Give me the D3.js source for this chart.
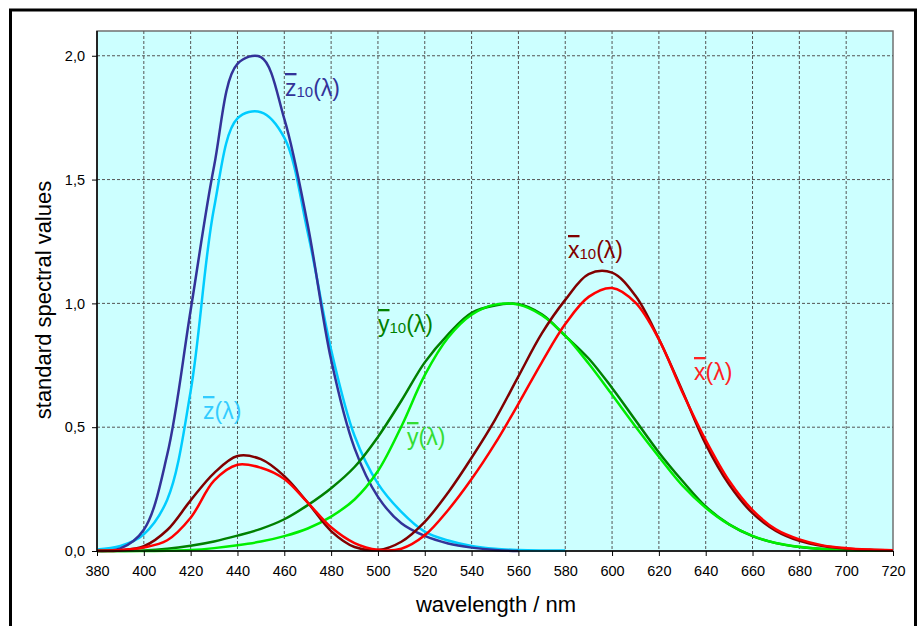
<!DOCTYPE html>
<html><head><meta charset="utf-8">
<script src="https://cdn.jsdelivr.net/npm/d3@7"></script>
<style>body{margin:0;background:#fff}svg{display:block;font-family:Arial,"Liberation Sans",sans-serif}.ov{text-decoration:overline;text-decoration-thickness:2px}</style>
</head><body><svg id="c" width="922" height="626"></svg>
<script>
const wavelengths = d3.range(380, 721, 10);
const x2 = [0.001368,0.004243,0.01431,0.04351,0.13438,0.2839,0.34828,0.3362,0.2908,0.19536,0.09564,0.03201,0.0049,0.0093,0.06327,0.1655,0.2904,0.43345,0.5945,0.7621,0.9163,1.0263,1.0622,1.0026,0.85445,0.6424,0.4479,0.2835,0.1649,0.0874,0.04677,0.0227,0.011359,0.00579,0.002899];
const y2 = [0.000039,0.00012,0.000396,0.00121,0.004,0.0116,0.023,0.038,0.06,0.09098,0.13902,0.20802,0.323,0.503,0.71,0.862,0.954,0.99495,0.995,0.952,0.87,0.757,0.631,0.503,0.381,0.265,0.175,0.107,0.061,0.032,0.017,0.00821,0.004102,0.002091,0.001047];
const z2 = [0.00645,0.02005,0.06785,0.2074,0.6456,1.3856,1.74706,1.77211,1.6692,1.28764,0.81295,0.46518,0.272,0.1582,0.07825,0.04216,0.0203,0.00875,0.0039,0.0021,0.00165];
const x10 = [0.00016,0.002362,0.01911,0.084736,0.204492,0.314679,0.383734,0.370702,0.302273,0.195618,0.080507,0.016172,0.003816,0.037465,0.117749,0.236491,0.376772,0.529826,0.705224,0.878655,1.01416,1.11852,1.12399,1.03048,0.856297,0.647467,0.431567,0.268329,0.152568,0.081261,0.040851,0.019941,0.009577,0.004553,0.002175];
const y10 = [0.000017,0.000253,0.002004,0.008756,0.021391,0.038676,0.062077,0.089456,0.128201,0.18519,0.253589,0.339133,0.460777,0.606741,0.761757,0.875211,0.961988,0.991761,0.99734,0.955552,0.868934,0.777405,0.658341,0.527963,0.398057,0.283493,0.179828,0.107633,0.060281,0.0318,0.015905,0.007749,0.003718,0.001768,0.000846];
const z10 = [0.000705,0.010482,0.086011,0.389366,0.972542,1.55348,1.96728,1.9948,1.74537,1.31756,0.772125,0.415254,0.218502,0.112044,0.060709,0.030451,0.013676,0.003988,0];
const xTicks = d3.range(380, 721, 20);
const yTicks = [0, 0.5, 1.0, 1.5, 2.0];

const svg = d3.select("#c");
const L = 97, T = 31, R = 893, B = 551;
const xs = d3.scaleLinear().domain([380, 720]).range([L, R]);
const ys = d3.scaleLinear().domain([0, 2.1]).range([B, T]);

svg.append("rect").attr("x", 10.5).attr("y", 10).attr("width", 905).attr("height", 700)
  .attr("fill", "none").attr("stroke", "#000").attr("stroke-width", 3);
svg.append("rect").attr("x", L).attr("y", T).attr("width", R - L).attr("height", B - T)
  .attr("fill", "#ccffff").attr("stroke", "#707070").attr("stroke-width", 1.5);

const g = svg.append("g");
g.selectAll(".vg").data(xTicks.slice(1, -1)).enter().append("line")
  .attr("x1", d => xs(d)).attr("x2", d => xs(d)).attr("y1", T).attr("y2", B)
  .attr("stroke", "#555").attr("stroke-width", 1).attr("stroke-dasharray", "3,2");
g.selectAll(".hg").data(yTicks.slice(1)).enter().append("line")
  .attr("x1", L).attr("x2", R).attr("y1", d => ys(d)).attr("y2", d => ys(d))
  .attr("stroke", "#555").attr("stroke-width", 1).attr("stroke-dasharray", "3,2");

const series = [
  {v: z2, c: "#00ccff"},
  {v: z10, c: "#333399"},
  {v: y10, c: "#008000"},
  {v: y2, c: "#00ee00"},
  {v: x10, c: "#800000"},
  {v: x2, c: "#ff0000"}
];
const line = d3.line().x((d, i) => xs(wavelengths[i])).y(d => ys(Math.max(0, d))).curve(d3.curveCatmullRom.alpha(0.5));
series.forEach(s => {
  svg.append("path").attr("d", line(s.v)).attr("fill", "none")
    .attr("stroke", s.c).attr("stroke-width", 2.5).attr("stroke-linejoin", "round");
});

// axes
const xa = svg.append("g").attr("transform", `translate(0,${B})`)
  .call(d3.axisBottom(xs).tickValues(xTicks).tickSize(5).tickPadding(10).tickFormat(d3.format("d")));
const ya = svg.append("g").attr("transform", `translate(${L},0)`)
  .call(d3.axisLeft(ys).tickValues(yTicks).tickSize(5).tickPadding(7).tickFormat(d => d.toFixed(1).replace(".", ",")));
[xa, ya].forEach(a => {
  a.select(".domain").attr("stroke", "#000").attr("stroke-width", 1.5);
  a.selectAll(".tick line").attr("stroke", "#000");
  a.selectAll("text").attr("font-size", 14.5).attr("fill", "#000").attr("font-family", "Arial, 'Liberation Sans', sans-serif");
});
ya.select(".domain").attr("d", `M0,${T}V${B}`);
xa.select(".domain").attr("d", `M${L},0H${R}`);

svg.append("text").attr("x", 496).attr("y", 612).attr("text-anchor", "middle")
  .attr("font-size", 22).text("wavelength / nm");
svg.append("text").attr("transform", "translate(51,300) rotate(-90)").attr("text-anchor", "middle")
  .attr("font-size", 22).text("standard spectral values");

const labels = [
  {b: "z", s: "10", x: 285, y: 96, c: "#333399"},
  {b: "z", s: "", x: 203, y: 419, c: "#33ccff"},
  {b: "y", s: "10", x: 378, y: 332, c: "#008000"},
  {b: "y", s: "", x: 407, y: 445, c: "#33dd33"},
  {b: "x", s: "10", x: 568, y: 258, c: "#800000"},
  {b: "x", s: "", x: 694, y: 380, c: "#ff2222"}
];
labels.forEach(l => {
  const t = svg.append("text").attr("x", l.x).attr("y", l.y).attr("fill", l.c).attr("font-size", 23);
  t.append("tspan").attr("class", "ov").text(l.b);
  if (l.s) t.append("tspan").attr("font-size", 15).attr("dy", 1).text(l.s);
  t.append("tspan").attr("dy", l.s ? -1 : 0).text("(\u03bb)");
});
</script></body></html>
